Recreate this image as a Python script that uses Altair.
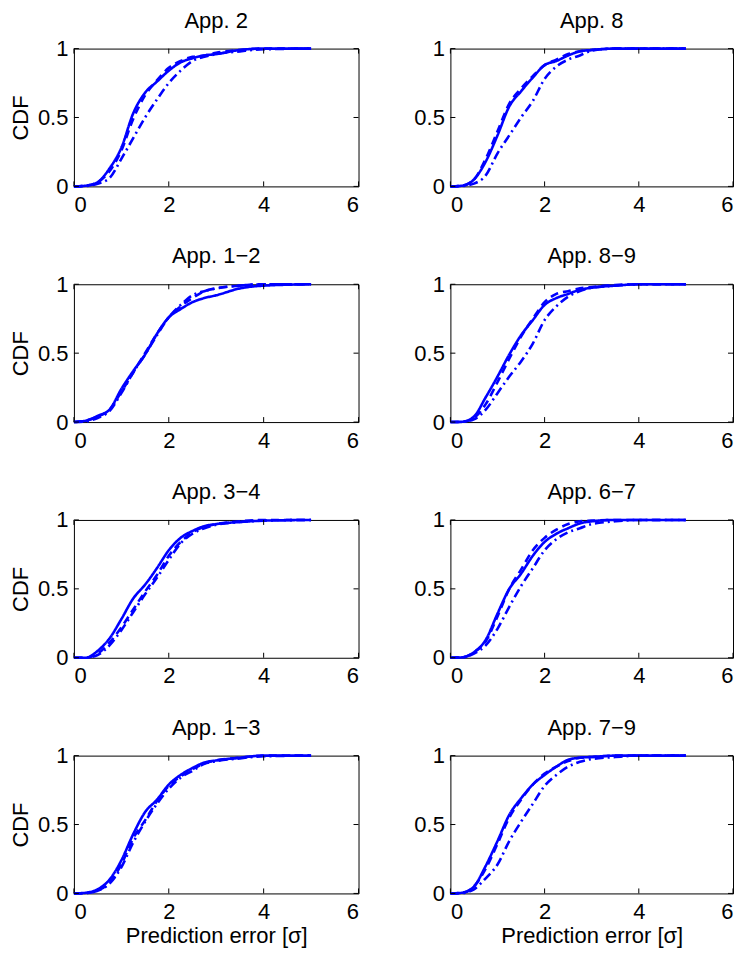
import altair as alt
import pandas as pd

x_grid = [0, 0.25, 0.5, 0.75, 1.0, 1.25, 1.5, 1.75, 2.0, 2.25, 2.5, 2.75, 3.0, 3.5, 4.0, 5.0]
x_ticks = [0, 2, 4, 6]
y_ticks = [0, 0.5, 1]
series_names = ["solid", "dashed", "dashdot"]

titles = ["App. 2", "App. 8", "App. 1\u22122", "App. 8\u22129",
          "App. 3\u22124", "App. 6\u22127", "App. 1\u22123", "App. 7\u22129"]

app2_solid   = [0, 0.005, 0.03, 0.13, 0.28, 0.53, 0.68, 0.76, 0.84, 0.90, 0.93, 0.95, 0.96, 0.99, 1.0, 1.0]
app2_dashed  = [0, 0.005, 0.03, 0.11, 0.26, 0.49, 0.66, 0.77, 0.86, 0.91, 0.94, 0.95, 0.97, 0.99, 1.0, 1.0]
app2_dashdot = [0, 0.003, 0.02, 0.06, 0.20, 0.35, 0.50, 0.63, 0.75, 0.84, 0.91, 0.94, 0.96, 0.98, 0.995, 1.0]

app8_solid   = [0, 0.005, 0.05, 0.18, 0.37, 0.58, 0.69, 0.79, 0.88, 0.91, 0.95, 0.98, 0.99, 1.0, 1.0, 1.0]
app8_dashed  = [0, 0.005, 0.05, 0.20, 0.40, 0.60, 0.71, 0.80, 0.88, 0.92, 0.96, 0.98, 0.99, 1.0, 1.0, 1.0]
app8_dashdot = [0, 0.003, 0.02, 0.08, 0.24, 0.37, 0.50, 0.62, 0.78, 0.87, 0.92, 0.95, 0.985, 1.0, 1.0, 1.0]

app12_solid   = [0, 0.01, 0.045, 0.09, 0.24, 0.37, 0.49, 0.64, 0.76, 0.82, 0.87, 0.90, 0.92, 0.97, 0.99, 1.0]
app12_dashed  = [0, 0.01, 0.04, 0.09, 0.22, 0.36, 0.50, 0.64, 0.76, 0.84, 0.90, 0.95, 0.97, 0.99, 1.0, 1.0]
app12_dashdot = [0, 0.005, 0.03, 0.08, 0.21, 0.36, 0.49, 0.63, 0.76, 0.85, 0.92, 0.95, 0.97, 0.99, 1.0, 1.0]

app89_solid   = [0, 0.002, 0.04, 0.18, 0.33, 0.49, 0.63, 0.74, 0.85, 0.90, 0.93, 0.96, 0.975, 0.99, 1.0, 1.0]
app89_dashed  = [0, 0.002, 0.03, 0.13, 0.29, 0.46, 0.62, 0.75, 0.87, 0.93, 0.95, 0.97, 0.98, 0.995, 1.0, 1.0]
app89_dashdot = [0, 0.002, 0.02, 0.09, 0.21, 0.33, 0.44, 0.57, 0.74, 0.84, 0.91, 0.95, 0.975, 0.99, 1.0, 1.0]

app34_solid   = [0, 0.0, 0.05, 0.14, 0.28, 0.43, 0.53, 0.65, 0.78, 0.87, 0.92, 0.955, 0.97, 0.985, 0.995, 1.0]
app34_dashed  = [0, 0.0, 0.03, 0.11, 0.22, 0.35, 0.48, 0.60, 0.74, 0.84, 0.91, 0.95, 0.97, 0.99, 1.0, 1.0]
app34_dashdot = [0, 0.0, 0.02, 0.09, 0.20, 0.33, 0.46, 0.58, 0.71, 0.83, 0.90, 0.94, 0.965, 0.985, 0.995, 1.0]

app67_solid   = [0, 0.003, 0.04, 0.13, 0.32, 0.50, 0.61, 0.74, 0.84, 0.90, 0.94, 0.975, 0.99, 1.0, 1.0, 1.0]
app67_dashed  = [0, 0.003, 0.04, 0.12, 0.30, 0.50, 0.64, 0.78, 0.87, 0.93, 0.97, 0.99, 0.995, 1.0, 1.0, 1.0]
app67_dashdot = [0, 0.002, 0.03, 0.09, 0.21, 0.37, 0.52, 0.65, 0.78, 0.86, 0.91, 0.94, 0.97, 0.99, 1.0, 1.0]

app13_solid   = [0, 0.005, 0.03, 0.10, 0.24, 0.43, 0.59, 0.68, 0.79, 0.86, 0.91, 0.95, 0.965, 0.985, 1.0, 1.0]
app13_dashed  = [0, 0.003, 0.02, 0.08, 0.21, 0.40, 0.53, 0.67, 0.78, 0.85, 0.90, 0.945, 0.965, 0.985, 1.0, 1.0]
app13_dashdot = [0, 0.003, 0.02, 0.07, 0.19, 0.37, 0.52, 0.65, 0.76, 0.84, 0.89, 0.94, 0.96, 0.98, 0.995, 1.0]

app79_solid   = [0, 0.005, 0.05, 0.20, 0.38, 0.57, 0.69, 0.79, 0.86, 0.92, 0.97, 0.985, 0.99, 1.0, 1.0, 1.0]
app79_dashed  = [0, 0.005, 0.05, 0.18, 0.36, 0.55, 0.68, 0.79, 0.87, 0.92, 0.96, 0.985, 0.99, 1.0, 1.0, 1.0]
app79_dashdot = [0, 0.003, 0.03, 0.11, 0.21, 0.38, 0.52, 0.65, 0.78, 0.86, 0.92, 0.955, 0.975, 0.99, 1.0, 1.0]

panel_series = [
    [app2_solid, app2_dashed, app2_dashdot],
    [app8_solid, app8_dashed, app8_dashdot],
    [app12_solid, app12_dashed, app12_dashdot],
    [app89_solid, app89_dashed, app89_dashdot],
    [app34_solid, app34_dashed, app34_dashdot],
    [app67_solid, app67_dashed, app67_dashdot],
    [app13_solid, app13_dashed, app13_dashdot],
    [app79_solid, app79_dashed, app79_dashdot],
]

FONT = "Liberation Sans"
FS = 22
BLUE = "#0000ff"
H = 138


def panel(title, ys, left, bottom, W):
    rows = []
    for s, vals in zip(series_names, ys):
        for xv, yv in zip(x_grid, vals):
            rows.append({"x": xv, "y": yv, "series": s})
    df = pd.DataFrame(rows)
    xscale = alt.Scale(domain=[0, 6], nice=False)
    yscale = alt.Scale(domain=[0, 1], nice=False)
    xaxis = alt.Axis(values=x_ticks, format="~g", labelPadding=8,
                     title="Prediction error [\u03c3]" if bottom else None, titlePadding=3)
    yaxis = alt.Axis(values=y_ticks, format="~g", labelPadding=6,
                     title="CDF" if left else None, titlePadding=5)
    lines = alt.Chart(df).mark_line(color=BLUE, strokeWidth=2.6, interpolate="monotone").encode(
        x=alt.X("x:Q", scale=xscale, axis=xaxis),
        y=alt.Y("y:Q", scale=yscale, axis=yaxis),
        strokeDash=alt.StrokeDash("series:N",
                                  scale=alt.Scale(domain=series_names,
                                                  range=[[1, 0], [8, 5], [9, 4, 2, 4]]),
                                  legend=None),
    )
    xt = pd.DataFrame({"x": x_ticks})
    yt = pd.DataFrame({"y": y_ticks})
    xb = alt.Chart(xt).mark_rule(color="black", strokeWidth=1).encode(
        x=alt.X("x:Q", scale=xscale, axis=xaxis), y=alt.value(H), y2=alt.value(H - 5))
    xtop = alt.Chart(xt).mark_rule(color="black", strokeWidth=1).encode(
        x=alt.X("x:Q", scale=xscale, axis=xaxis), y=alt.value(0), y2=alt.value(5))
    yl = alt.Chart(yt).mark_rule(color="black", strokeWidth=1).encode(
        y=alt.Y("y:Q", scale=yscale, axis=yaxis), x=alt.value(0), x2=alt.value(5))
    yr = alt.Chart(yt).mark_rule(color="black", strokeWidth=1).encode(
        y=alt.Y("y:Q", scale=yscale, axis=yaxis), x=alt.value(W), x2=alt.value(W - 5))
    return alt.layer(lines, xb, xtop, yl, yr).properties(
        width=W, height=H,
        title=alt.TitleParams(title, fontSize=FS, font=FONT, fontWeight="normal",
                              color="black", offset=5, anchor="middle"),
    )


rows = []
for r in range(4):
    i = 2 * r
    lp = panel(titles[i], panel_series[i], True, r == 3, 285)
    rp = panel(titles[i + 1], panel_series[i + 1], False, r == 3, 283)
    rows.append(alt.hconcat(lp, rp, spacing=53))

chart = alt.vconcat(*rows, spacing=28).properties(
    padding={"left": 0, "top": 0, "right": 5, "bottom": 0}
).configure_view(stroke="black", strokeWidth=1).configure_axis(
    labelFont=FONT, labelFontSize=FS, labelColor="black",
    titleFont=FONT, titleFontSize=FS, titleFontWeight="normal", titleColor="black",
    ticks=False, tickSize=0, domain=False, grid=False,
)

chart.save("out.html", embed_options={"renderer": "svg", "actions": False})
